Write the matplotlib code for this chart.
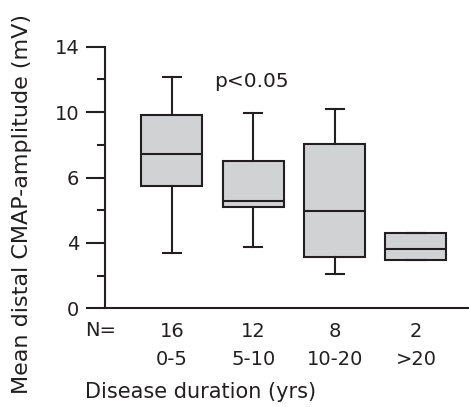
import matplotlib
matplotlib.use("Agg")
import matplotlib.pyplot as plt

plt.rcParams['font.family'] = ['DejaVu Sans']

# box statistics (axis units)
groups = ["0-5", "5-10", "10-20", ">20"]
counts = ["16", "12", "8", "2"]
whislo = [2.96, 3.28, 1.82, 2.57]
q1 = [6.56, 5.40, 2.74, 2.57]
med = [8.26, 5.74, 5.22, 3.17]
q3 = [10.34, 7.88, 8.79, 4.05]
whishi = [12.39, 10.47, 10.68, 4.05]

ytick_pos = [0, 3.5, 7, 10.5, 14]
ytick_lab = ["0", "4", "6", "10", "14"]

fig = plt.figure(figsize=(4.69, 4.07), dpi=100)
ax = fig.add_axes([0.224, 0.2425, 0.774, 0.6425])

stats = []
for i in range(len(groups)):
    stats.append(dict(whislo=whislo[i], q1=q1[i], med=med[i], q3=q3[i],
                      whishi=whishi[i], fliers=[]))

edge = "#231f20"
ax.bxp(stats, positions=[1, 2, 3, 4], widths=0.75, patch_artist=True,
       showfliers=False,
       boxprops=dict(facecolor="#d1d2d4", edgecolor=edge, linewidth=1.5),
       medianprops=dict(color=edge, linewidth=1.5),
       whiskerprops=dict(color=edge, linewidth=1.5),
       capprops=dict(color=edge, linewidth=1.5),
       capwidths=0.22)

ax.set_xlim(0.18, 4.64)
ax.set_ylim(0, 14)
ax.spines['top'].set_visible(False)
ax.spines['right'].set_visible(False)
for s in ['left', 'bottom']:
    ax.spines[s].set_linewidth(1.5)
    ax.spines[s].set_color(edge)

ax.set_yticks(ytick_pos)
ax.set_yticklabels(ytick_lab, fontsize=14, color=edge)
ax.set_yticks([1.75, 5.25, 8.75, 12.25], minor=True)
ax.tick_params(axis='y', which='major', length=13.5, width=1.5, color=edge, pad=5)
ax.tick_params(axis='y', which='minor', length=5.5, width=1.5, color=edge)

ax.set_xticks([1, 2, 3, 4])
ax.set_xticklabels([c + "\n" + g for c, g in zip(counts, groups)],
                   fontsize=14, color=edge, linespacing=1.6)
ax.tick_params(axis='x', length=0, pad=10)

ax.text(-0.055, -0.05, "N=", transform=ax.transAxes, ha="left", va="top",
        fontsize=14, color=edge)
ax.text(0.30, 0.866, "p<0.05", transform=ax.transAxes, fontsize=14.5, color=edge,
        va="center", ha="left")

ax.set_ylabel("Mean distal CMAP-amplitude (mV)", fontsize=16, color=edge)
ax.yaxis.set_label_coords(-0.2, 0.40)
fig.text(0.181, 0.012, "Disease duration (yrs)", fontsize=15, color=edge,
         ha="left", va="bottom")

fig.savefig("out.png", dpi=100)
